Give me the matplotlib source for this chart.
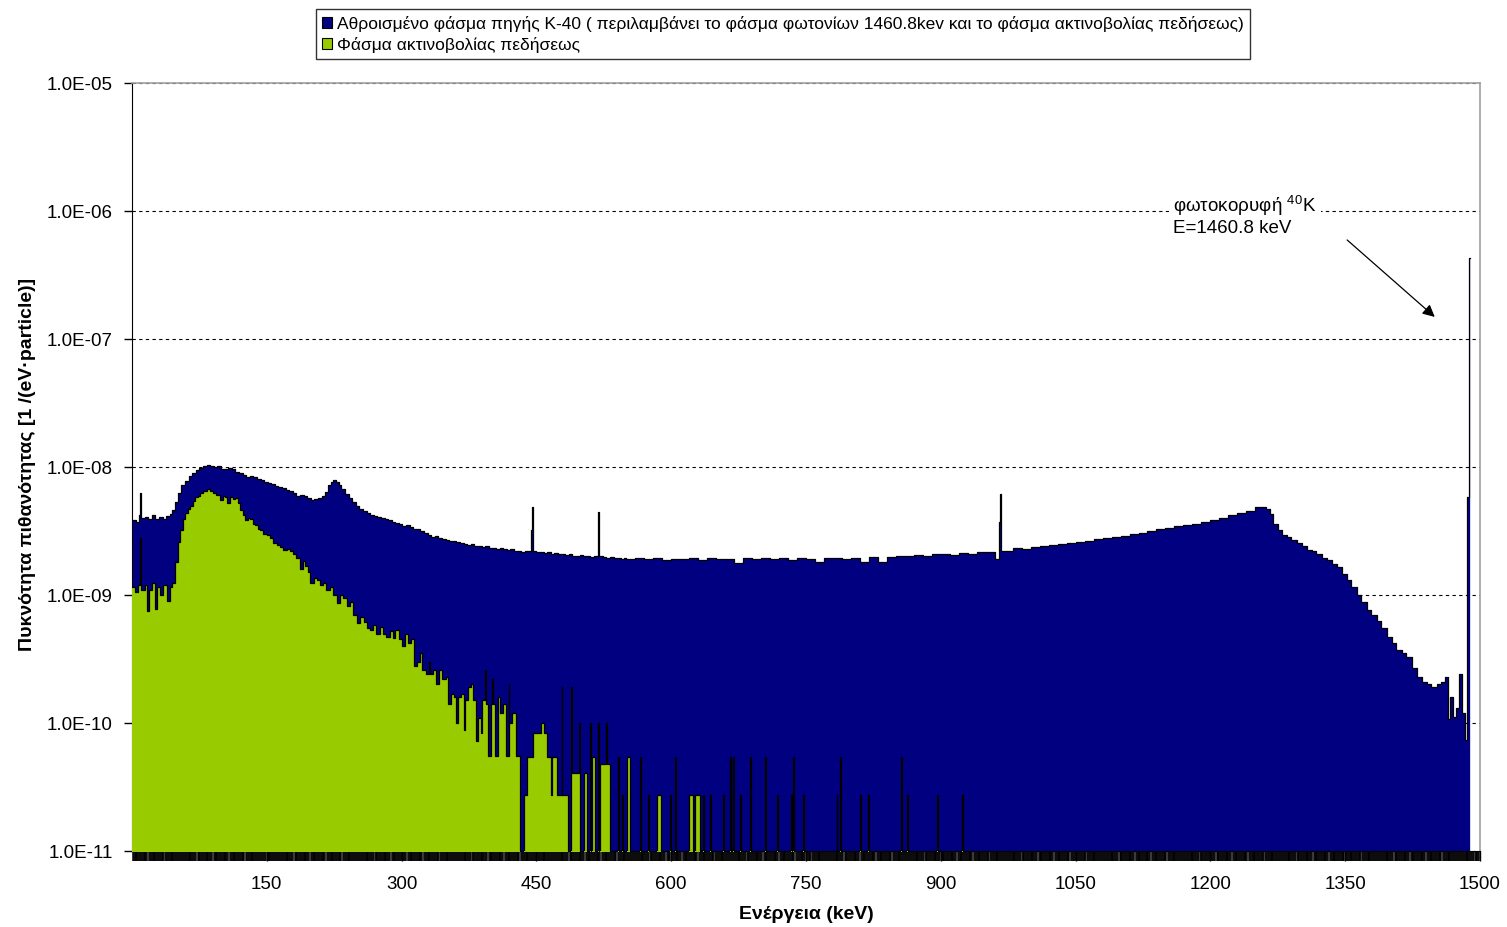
import numpy as np
import matplotlib
matplotlib.use("Agg")
import matplotlib.pyplot as plt
from matplotlib.patches import Patch
from matplotlib.ticker import FixedLocator, FuncFormatter

plt.rcParams['font.family'] = ['Liberation Sans', 'DejaVu Sans']
plt.rcParams['mathtext.fontset'] = 'custom'
plt.rcParams['mathtext.rm'] = 'Liberation Sans'

# Total K-40 source spectrum: bin start energy (keV) and probability density
total_kev = [0, 4, 8, 9, 10, 14, 18, 22, 26, 30, 34, 38, 42, 45, 48, 51, 55, 59, 63, 67,
             71, 75, 79, 83, 87, 91, 95, 99, 103, 107, 111, 115, 119, 123, 127, 131, 135,
             139, 143, 147, 151, 155, 159, 163, 167, 171, 175, 179, 183, 187, 191, 195, 199,
             203, 207, 211, 215, 218, 221, 224, 227, 230, 233, 237, 241, 245, 249, 253, 257,
             261, 265, 269, 273, 277, 281, 285, 289, 293, 297, 301, 305, 309, 313, 317, 321,
             325, 329, 333, 337, 341, 345, 349, 353, 357, 361, 365, 369, 373, 377, 381, 385,
             389, 393, 397, 401, 405, 409, 413, 417, 421, 425, 429, 433, 437, 441, 444, 445,
             446, 450, 454, 458, 462, 466, 470, 474, 478, 482, 486, 490, 494, 498, 502, 506,
             510, 514, 518, 519, 520, 524, 528, 532, 536, 540, 544, 548, 550, 560, 570, 580,
             590, 600, 610, 620, 630, 640, 650, 660, 670, 680, 690, 700, 710, 720, 730, 740,
             750, 760, 770, 780, 790, 800, 810, 820, 830, 840, 850, 860, 870, 880, 890, 900,
             910, 920, 930, 940, 950, 960, 965, 966, 967, 970, 980, 990, 1000, 1010, 1020,
             1030, 1040, 1050, 1060, 1070, 1080, 1090, 1100, 1110, 1120, 1130, 1140, 1150,
             1160, 1170, 1180, 1190, 1200, 1210, 1220, 1230, 1240, 1250, 1256, 1262, 1266,
             1270, 1275, 1280, 1285, 1290, 1296, 1302, 1308, 1313, 1318, 1324, 1330, 1335,
             1341, 1346, 1352, 1357, 1363, 1368, 1374, 1379, 1385, 1390, 1396, 1402, 1407,
             1413, 1418, 1424, 1430, 1435, 1441, 1446, 1452, 1457, 1461, 1464, 1467, 1470,
             1473, 1477, 1480, 1483, 1486, 1487.5]
total_val = [3.85e-9, 3.7e-9, 4.2e-9, 6.3e-9, 4.0e-9, 4.1e-9, 3.9e-9, 4.2e-9, 3.95e-9, 4.1e-9,
             3.9e-9, 4.15e-9, 4.3e-9, 4.6e-9, 5.3e-9, 6.3e-9, 7.2e-9, 7.8e-9, 8.5e-9, 9.0e-9,
             9.5e-9, 9.9e-9, 1.02e-8, 1.04e-8, 1.02e-8, 1.0e-8, 1.01e-8, 9.6e-9, 9.7e-9, 9.9e-9,
             9.6e-9, 9.2e-9, 8.9e-9, 8.7e-9, 8.4e-9, 8.5e-9, 8.3e-9, 8.1e-9, 7.9e-9, 7.6e-9,
             7.5e-9, 7.3e-9, 7.1e-9, 7.0e-9, 6.8e-9, 6.6e-9, 6.5e-9, 6.3e-9, 5.9e-9, 6.0e-9,
             5.9e-9, 5.7e-9, 5.5e-9, 5.6e-9, 5.7e-9, 5.9e-9, 6.4e-9, 7.2e-9, 7.7e-9, 7.9e-9,
             7.6e-9, 7.2e-9, 6.7e-9, 6.2e-9, 5.7e-9, 5.3e-9, 5.0e-9, 4.7e-9, 4.5e-9, 4.4e-9,
             4.25e-9, 4.15e-9, 4.05e-9, 4.0e-9, 3.9e-9, 3.85e-9, 3.75e-9, 3.65e-9, 3.6e-9,
             3.45e-9, 3.5e-9, 3.4e-9, 3.3e-9, 3.25e-9, 3.15e-9, 3.05e-9, 2.95e-9, 2.85e-9,
             2.9e-9, 2.8e-9, 2.75e-9, 2.7e-9, 2.65e-9, 2.62e-9, 2.58e-9, 2.55e-9, 2.5e-9,
             2.46e-9, 2.5e-9, 2.42e-9, 2.4e-9, 2.37e-9, 2.4e-9, 2.33e-9, 2.35e-9, 2.3e-9,
             2.33e-9, 2.27e-9, 2.25e-9, 2.3e-9, 2.22e-9, 2.2e-9, 2.17e-9, 2.22e-9, 2.2e-9,
             3.2e-9, 4.9e-9, 2.2e-9, 2.15e-9, 2.17e-9, 2.12e-9, 2.15e-9, 2.1e-9, 2.13e-9,
             2.08e-9, 2.1e-9, 2.05e-9, 2.08e-9, 2.03e-9, 2.0e-9, 2.05e-9, 2.0e-9, 2.02e-9,
             1.98e-9, 2.0e-9, 3.1e-9, 4.45e-9, 2.0e-9, 1.97e-9, 1.95e-9, 1.98e-9, 1.93e-9,
             1.95e-9, 1.9e-9, 1.93e-9, 1.92e-9, 1.95e-9, 1.9e-9, 1.93e-9, 1.88e-9, 1.92e-9,
             1.9e-9, 1.94e-9, 1.88e-9, 1.93e-9, 1.9e-9, 1.92e-9, 1.78e-9, 1.93e-9, 1.9e-9,
             1.95e-9, 1.91e-9, 1.93e-9, 1.89e-9, 1.94e-9, 1.9e-9, 1.8e-9, 1.93e-9, 1.96e-9,
             1.92e-9, 1.95e-9, 1.82e-9, 1.97e-9, 1.8e-9, 1.98e-9, 2.02e-9, 2.0e-9, 2.05e-9,
             2.03e-9, 2.08e-9, 2.1e-9, 2.07e-9, 2.13e-9, 2.1e-9, 2.15e-9, 2.18e-9, 1.9e-9,
             3.7e-9, 6.1e-9, 2.2e-9, 2.22e-9, 2.33e-9, 2.3e-9, 2.38e-9, 2.42e-9, 2.45e-9,
             2.5e-9, 2.55e-9, 2.6e-9, 2.65e-9, 2.72e-9, 2.78e-9, 2.85e-9, 2.9e-9, 2.98e-9,
             3.05e-9, 3.15e-9, 3.25e-9, 3.35e-9, 3.45e-9, 3.5e-9, 3.6e-9, 3.7e-9, 3.85e-9,
             4.0e-9, 4.2e-9, 4.35e-9, 4.5e-9, 4.85e-9, 4.9e-9, 4.7e-9, 4.3e-9, 3.6e-9, 3.2e-9,
             2.95e-9, 2.85e-9, 2.7e-9, 2.55e-9, 2.4e-9, 2.25e-9, 2.2e-9, 2.09e-9, 1.95e-9,
             1.88e-9, 1.75e-9, 1.64e-9, 1.45e-9, 1.31e-9, 1.15e-9, 1.0e-9, 8.8e-10, 7.6e-10,
             7.0e-10, 6.3e-10, 5.5e-10, 4.7e-10, 4.2e-10, 3.7e-10, 3.5e-10, 3.3e-10, 2.7e-10,
             2.3e-10, 2.1e-10, 2.0e-10, 1.9e-10, 2.0e-10, 2.1e-10, 2.3e-10, 1.08e-10, 1.6e-10,
             1.12e-10, 1.3e-10, 2.4e-10, 1.2e-10, 7.3e-11, 5.8e-9, 4.3e-7]
total_end_kev = 1488.5

# Bremsstrahlung spectrum: bin start energy (keV) and probability density
brems_kev = [0, 3, 7, 9, 10, 14, 17, 19, 22, 26, 28, 31, 35, 39, 42, 45, 48, 51, 53, 57,
             59, 62, 65, 68, 70, 73, 76, 79, 83, 87, 90, 94, 98, 101, 103, 106, 109, 112, 115,
             118, 120, 123, 126, 129, 131, 135, 137, 140, 142, 146, 150, 154, 157, 161, 165,
             168, 172, 176, 179, 183, 187, 190, 193, 196, 198, 202, 206, 209, 213, 216, 220,
             224, 228, 231, 235, 239, 243, 246, 250, 254, 258, 261, 265, 268, 272, 276, 279,
             283, 287, 290, 293, 297, 300, 304, 307, 310, 314, 317, 320, 323, 327, 330, 332,
             335, 338, 342, 345, 349, 352, 355, 358, 361, 363, 366, 369, 371, 374, 377, 380,
             383, 385, 388, 390, 393, 394, 396, 399, 401, 402, 404, 407, 410, 413, 416, 419,
             420, 423, 427, 432, 436, 440, 446, 455, 459, 462, 466, 467, 473, 478, 479, 485,
             489, 490, 497, 498, 499, 503, 506, 510, 511, 512, 515, 519, 520, 521, 528, 529,
             532, 541, 542, 545, 546, 551, 554, 565, 566, 574, 575, 584, 589, 599, 600, 604,
             605, 620, 624, 626, 632, 635, 636, 643, 644, 658, 659, 665, 666, 669, 670, 677,
             678, 688, 689, 704, 705, 718, 719, 733, 734, 736, 737, 747, 748, 784, 785, 788,
             789, 810, 811, 819, 820, 856, 857, 862, 863, 896, 897, 924, 925]
brems_val = [1.15e-9, 1.05e-9, 1.2e-9, 2.8e-9, 1.1e-9, 1.2e-9, 7.5e-10, 1.1e-9, 1.25e-9,
             7.8e-10, 1.15e-9, 1.0e-9, 1.2e-9, 9.0e-10, 1.15e-9, 1.25e-9, 1.8e-9, 2.6e-9,
             3.2e-9, 3.9e-9, 4.4e-9, 4.7e-9, 5.0e-9, 5.4e-9, 5.8e-9, 5.9e-9, 6.3e-9, 6.5e-9,
             6.7e-9, 6.5e-9, 6.3e-9, 6.0e-9, 5.5e-9, 5.9e-9, 5.8e-9, 5.2e-9, 5.8e-9, 5.6e-9,
             5.7e-9, 5.2e-9, 4.6e-9, 4.2e-9, 3.85e-9, 4.0e-9, 3.9e-9, 3.6e-9, 3.5e-9, 3.3e-9,
             3.2e-9, 3.0e-9, 2.96e-9, 2.8e-9, 2.55e-9, 2.45e-9, 2.37e-9, 2.25e-9, 2.3e-9,
             2.2e-9, 2.1e-9, 1.95e-9, 1.6e-9, 1.85e-9, 1.7e-9, 1.5e-9, 1.24e-9, 1.35e-9,
             1.3e-9, 1.2e-9, 1.25e-9, 1.09e-9, 1.15e-9, 1.0e-9, 8.7e-10, 1.0e-9, 9.5e-10,
             8.2e-10, 8.8e-10, 7.0e-10, 6.0e-10, 6.7e-10, 6.2e-10, 5.5e-10, 5.3e-10, 5.8e-10,
             5.0e-10, 5.6e-10, 5.0e-10, 4.7e-10, 5.2e-10, 4.6e-10, 5.3e-10, 4.5e-10, 4.0e-10,
             5.0e-10, 4.2e-10, 4.5e-10, 2.8e-10, 3.0e-10, 3.5e-10, 2.6e-10, 2.4e-10, 3.0e-10,
             2.4e-10, 2.6e-10, 2.0e-10, 2.6e-10, 2.2e-10, 2.3e-10, 1.4e-10, 1.7e-10, 1.6e-10,
             1.0e-10, 1.6e-10, 1.7e-10, 8.8e-11, 1.5e-10, 1.9e-10, 2.0e-10, 1.5e-10, 7.2e-11,
             1.1e-10, 8.4e-11, 1.5e-10, 2.6e-10, 1.4e-10, 5.5e-11, 1.4e-10, 2.2e-10, 1.4e-10,
             5.5e-11, 1.6e-10, 1.2e-10, 1.4e-10, 5.5e-11, 2.0e-10, 1.0e-10, 1.2e-10, 5.5e-11,
             0, 2.75e-11, 5.4e-11, 8.4e-11, 1.0e-10, 8.4e-11, 5.4e-11, 2.75e-11, 5.4e-11,
             2.75e-11, 1.9e-10, 2.75e-11, 0, 1.9e-10, 4.1e-11, 1.0e-10, 4.1e-11, 0, 4.1e-11,
             0, 1.0e-10, 0, 5.4e-11, 0, 1.0e-10, 0, 4.8e-11, 1.0e-10, 4.8e-11, 0, 5.4e-11, 0,
             2.75e-11, 0, 5.4e-11, 0, 5.4e-11, 0, 2.75e-11, 0, 2.75e-11, 0, 2.75e-11, 0,
             5.4e-11, 0, 2.75e-11, 0, 2.75e-11, 0, 2.75e-11, 0, 2.75e-11, 0, 2.75e-11, 0,
             5.4e-11, 0, 5.4e-11, 0, 2.75e-11, 0, 5.4e-11, 0, 5.4e-11, 0, 2.75e-11, 0,
             2.75e-11, 0, 5.4e-11, 0, 2.75e-11, 0, 2.75e-11, 0, 5.4e-11, 0, 2.75e-11, 0,
             2.75e-11, 0, 5.4e-11, 0, 2.75e-11, 0, 2.75e-11, 0, 2.75e-11, 0]
brems_end_kev = 1488.5

x_ticks = [150, 300, 450, 600, 750, 900, 1050, 1200, 1350, 1500]
y_ticks = [1e-11, 1e-10, 1e-9, 1e-8, 1e-7, 1e-6, 1e-5]

navy = '#000080'
lime = '#99CC00'
floor = 1e-13


def step_arrays(edges, vals, end):
    x = np.append(np.asarray(edges, float), end)
    y = np.maximum(np.append(np.asarray(vals, float), vals[-1]), floor)
    return x, y


fig = plt.figure(figsize=(15.07, 9.27), dpi=100)
ax = fig.add_axes([132 / 1507, 1 - 851 / 927, 1348 / 1507, 768 / 927])
ax.set_yscale('log')

tx, ty = step_arrays(total_kev, total_val, total_end_kev)
ax.fill_between(tx, ty, floor, step='post', color=navy, lw=0, zorder=2)
ax.step(tx, ty, where='post', color='black', lw=0.9, zorder=3)

bx, by = step_arrays(brems_kev, brems_val, brems_end_kev)
ax.fill_between(bx, by, floor, step='post', color=lime, lw=0, zorder=4)
ax.step(bx, by, where='post', color='black', lw=0.9, zorder=5)

ax.set_xlim(0, 1500)
ax.set_ylim(1e-11, 1e-5)

ax.yaxis.set_major_locator(FixedLocator(y_ticks))
ax.yaxis.set_minor_locator(FixedLocator([]))
ax.yaxis.set_major_formatter(FuncFormatter(lambda v, p: f'{v:.1E}'))
ax.grid(axis='y', which='major', color='black', linestyle=(0, (3, 3)), lw=0.8, zorder=1)
ax.set_axisbelow(True)

ax.xaxis.set_major_locator(FixedLocator(x_ticks))
ax.xaxis.set_major_formatter(FuncFormatter(lambda v, p: f'{v:.0f}'))
minor = [e for i, e in enumerate(np.arange(0, 1500, 1.0)) if i % 18 != 0]
ax.xaxis.set_minor_locator(FixedLocator(minor))
ax.tick_params(axis='x', which='major', length=7, width=1, color='black',
               labelsize=13.5, pad=11)
ax.tick_params(axis='x', which='minor', length=7, width=1.1, color='black')
ax.tick_params(axis='y', which='major', length=6, width=1, labelsize=13.5, pad=8)

for side in ('top', 'right'):
    ax.spines[side].set_color('#a0a0a0')
    ax.spines[side].set_linewidth(1.2)
for side in ('left', 'bottom'):
    ax.spines[side].set_color('black')
ax.spines['top'].set_zorder(6)

ax.set_xlabel('Ενέργεια (keV)', fontsize=14, fontweight='bold')
ax.xaxis.set_label_coords(0.5, -0.072)
ax.set_ylabel('Πυκνότητα πιθανότητας [1 /(eV·particle)]', fontsize=14, fontweight='bold')
ax.yaxis.set_label_coords(-0.071, 0.503)

ax.text(0.7723, 0.856, 'φωτοκορυφή $^{\\mathregular{40}}$K\nE=1460.8 keV',
        transform=ax.transAxes, ha='left', va='top', fontsize=13.5, linespacing=1.1,
        bbox=dict(facecolor='white', edgecolor='none', pad=3), zorder=7)
ax.annotate('', xy=(0.968, 0.693), xytext=(0.8999, 0.798),
            xycoords='axes fraction', textcoords='axes fraction',
            arrowprops=dict(arrowstyle='-|>', color='black', lw=0.9,
                            mutation_scale=18), zorder=7)

handles = [Patch(facecolor=navy, edgecolor='black', lw=0.8),
           Patch(facecolor=lime, edgecolor='black', lw=0.8)]
labels = ['Αθροισμένο φάσμα πηγής K-40 ( περιλαμβάνει το φάσμα φωτονίων 1460.8kev και το φάσμα ακτινοβολίας πεδήσεως)',
          'Φάσμα ακτινοβολίας πεδήσεως']
leg = fig.legend(handles, labels, loc='upper center', bbox_to_anchor=(783 / 1507, 1 - 9 / 927),
                 borderaxespad=0, fontsize=12.5, frameon=True, fancybox=False,
                 edgecolor='black', handlelength=0.55, handleheight=0.55, handletextpad=0.3,
                 borderpad=0.38, labelspacing=0.3, alignment='left')
leg.get_frame().set_linewidth(1.0)

fig.savefig('out.png', dpi=100)
